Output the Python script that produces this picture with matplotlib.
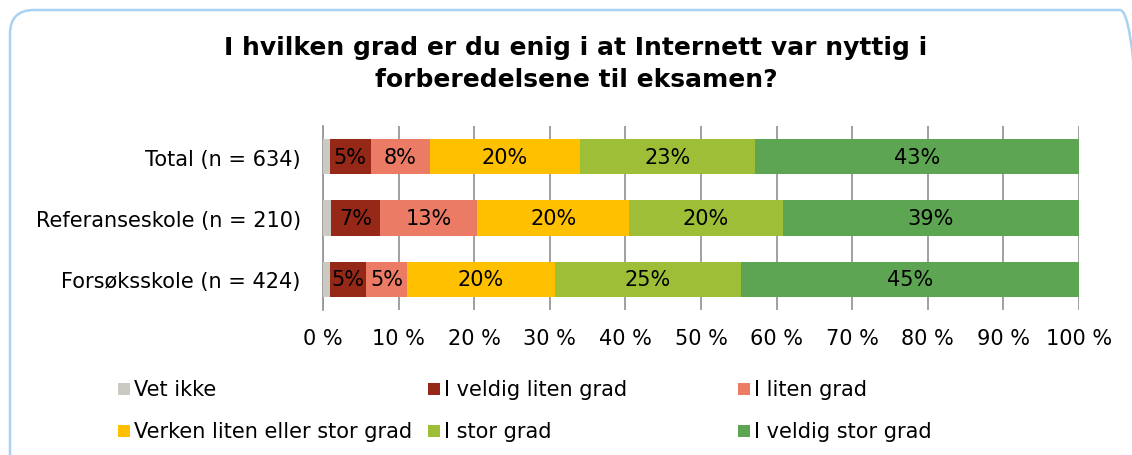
import matplotlib.pyplot as plt
from matplotlib.patches import FancyBboxPatch, Rectangle
from matplotlib.transforms import IdentityTransform

groups = ['Total (n = 634)', 'Referanseskole (n = 210)', 'Forsøksskole (n = 424)']
answers = ['Vet ikke', 'I veldig liten grad', 'I liten grad',
           'Verken liten eller stor grad', 'I stor grad', 'I veldig stor grad']
vet_ikke = [0.9, 1.0, 0.9]
veldig_liten = [5.4, 6.6, 4.8]
liten = [7.8, 12.8, 5.4]
verken = [19.9, 20.1, 19.6]
stor = [23.1, 20.3, 24.6]
veldig_stor = [42.9, 39.2, 44.7]
series = [vet_ikke, veldig_liten, liten, verken, stor, veldig_stor]
colors = ['#CACAC2', '#962817', '#EC7B66', '#FFC000', '#9EBE38', '#5DA552']
ticks = list(range(0, 101, 10))

W, H = 1132, 456
fig = plt.figure(figsize=(W / 100, H / 100), dpi=100)
plt.rcParams['font.family'] = ['DejaVu Sans']
fs = 15

# rounded frame in pixel coords (runs off right and bottom like the original)
fig.patches.append(FancyBboxPatch((10, -40), 1134, H - 11 + 40,
                                  boxstyle='round,pad=0,rounding_size=24',
                                  transform=IdentityTransform(), fill=False,
                                  edgecolor='#A9D2F2', linewidth=1.8))

ax = fig.add_axes([323 / W, 1 - 311 / H, (1079 - 323) / W, (311 - 127) / H])
ypos = list(range(len(groups)))
left = [0.0] * len(groups)
for vals, col, name in zip(series, colors, answers):
    bars = ax.barh(ypos, vals, left=left, height=0.58, color=col, label=name, zorder=3)
    if name != 'Vet ikke':
        for b, v in zip(bars, vals):
            ax.text(b.get_x() + b.get_width() / 2, b.get_y() + b.get_height() / 2,
                    '%d%%' % round(v), ha='center', va='center', fontsize=fs, zorder=4)
    left = [l + v for l, v in zip(left, vals)]

ax.set_xlim(0, 100)
ax.set_ylim(2.5, -0.5)
ax.set_yticks(ypos)
ax.set_yticklabels(groups, fontsize=fs)
ax.set_xticks(ticks)
ax.set_xticklabels(['%d %%' % t for t in ticks], fontsize=fs)
ax.tick_params(length=0)
ax.tick_params(axis='x', pad=13)
ax.tick_params(axis='y', pad=16)
ax.grid(axis='x', color='#999999', linewidth=1.3, zorder=0)
for s in ['top', 'right', 'bottom']:
    ax.spines[s].set_visible(False)
ax.spines['left'].set_color('#999999')
ax.spines['left'].set_linewidth(1.3)

fig.text(576 / W, 1 - 64 / H, 'I hvilken grad er du enig i at Internett var nyttig i\nforberedelsene til eksamen?',
         ha='center', va='center', fontsize=18, fontweight='bold', linespacing=1.4)

# legend laid out in a 3x2 grid
leg_x = [118, 428, 738]
leg_y = [390, 432]
for i, (name, col) in enumerate(zip(answers, colors)):
    cx = leg_x[i % 3]
    cy = leg_y[i // 3]
    fig.patches.append(Rectangle((cx / W, 1 - (cy + 6) / H), 12 / W, 12 / H,
                                 transform=fig.transFigure, facecolor=col, edgecolor='none'))
    fig.text((cx + 16) / W, 1 - cy / H, name, ha='left', va='center', fontsize=fs)

fig.savefig('out.png', dpi=100)
